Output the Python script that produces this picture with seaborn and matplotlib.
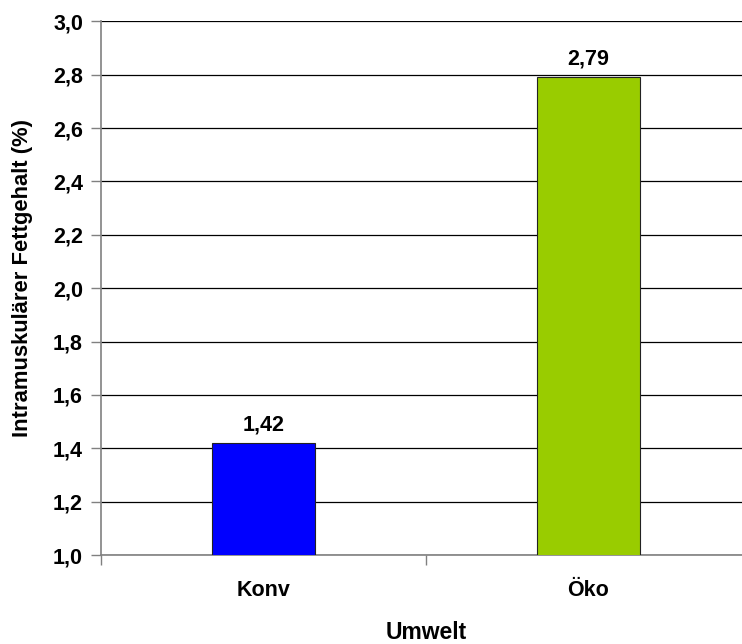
import matplotlib
matplotlib.use("Agg")
import matplotlib.pyplot as plt
import seaborn as sns
import pandas as pd
from matplotlib.ticker import FixedLocator

categories = ["Konv", "Öko"]
values = [1.42, 2.79]
bar_colors = ["#0000FF", "#99CC00"]
y_ticks = [1.0, 1.2, 1.4, 1.6, 1.8, 2.0, 2.2, 2.4, 2.6, 2.8, 3.0]

sns.set_theme(style="white")
plt.rcParams["font.family"] = ["Liberation Sans", "DejaVu Sans"]
plt.rcParams["font.weight"] = "bold"
plt.rcParams["text.color"] = "black"
plt.rcParams["axes.labelcolor"] = "black"
plt.rcParams["xtick.color"] = "black"
plt.rcParams["ytick.color"] = "black"

FS = 15.5

df = pd.DataFrame({"Umwelt": categories, "Fett": values})

fig = plt.figure(figsize=(7.42, 6.44), dpi=100)
ax = fig.add_axes([0.1361, 0.138, 0.876, 0.829])

sns.barplot(data=df, x="Umwelt", y="Fett", hue="Umwelt", palette=bar_colors,
            saturation=1, width=0.317, edgecolor="#222222", linewidth=0.8,
            legend=False, ax=ax, zorder=3)

ax.set_ylim(1.0, 3.0)
ax.set_xlim(-0.5, 1.5)
ax.set_yticks(y_ticks)
ax.set_yticklabels([f"{t:.1f}".replace(".", ",") for t in y_ticks],
                   fontsize=FS, fontweight="bold")
ax.yaxis.grid(True, color="#000000", linewidth=0.9)
ax.set_axisbelow(True)

ax.set_xticks([0, 1])
ax.set_xticklabels(categories, fontsize=FS, fontweight="bold")
ax.xaxis.set_minor_locator(FixedLocator([-0.5, 0.5, 1.5]))
ax.tick_params(axis="x", which="major", length=0, pad=18)
ax.tick_params(axis="x", which="minor", length=7, width=1, color="#808080",
               direction="out", bottom=True)
ax.tick_params(axis="y", which="major", length=7, width=1, color="#808080",
               direction="out", left=True, pad=6)

for side in ["top", "right"]:
    ax.spines[side].set_visible(False)
for side in ["left", "bottom"]:
    ax.spines[side].set_color("#808080")
    ax.spines[side].set_linewidth(1.2)

for i, v in enumerate(values):
    ax.text(i, v + 0.03, f"{v:.2f}".replace(".", ","), ha="center", va="bottom",
            fontsize=FS, fontweight="bold")

ax.set_xlabel("Umwelt", fontsize=16.5, fontweight="bold", va="center")
ax.xaxis.set_label_coords(0.5, -0.145)
ax.set_ylabel("Intramuskulärer Fettgehalt (%)", fontsize=15.8, fontweight="bold",
              va="center")
ax.yaxis.set_label_coords(-0.12, 0.52)

fig.savefig("out.png", dpi=100)
